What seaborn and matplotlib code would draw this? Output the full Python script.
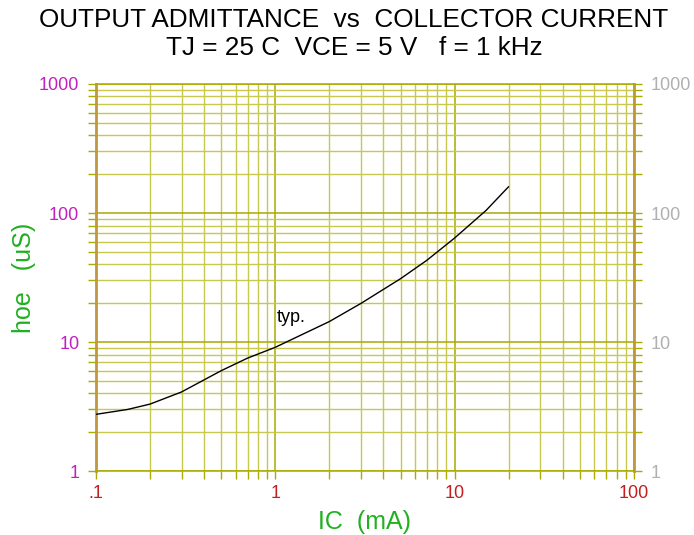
import numpy as np
import pandas as pd
import seaborn as sns
import matplotlib.pyplot as plt
from matplotlib.ticker import LogLocator, FixedLocator, FixedFormatter, NullFormatter

# curve (IC in mA, hoe in uS)
ic_ma = [0.1, 0.15, 0.2, 0.3, 0.5, 0.7, 1.0, 2.0, 3.0, 5.0, 7.0, 10.0, 15.0, 20.0]
hoe_us = [2.75, 3.0, 3.3, 4.1, 6.0, 7.5, 9.1, 14.4, 19.9, 31.0, 43.0, 64.0, 105.0, 160.0]

x_ticks = [0.1, 1, 10, 100]
x_labels = [".1", "1", "10", "100"]
y_ticks = [1, 10, 100, 1000]
y_labels = ["1", "10", "100", "1000"]

title_1 = "OUTPUT ADMITTANCE  vs  COLLECTOR CURRENT"
title_2 = "TJ = 25 C  VCE = 5 V   f = 1 kHz"

sns.set_style("white")
plt.rcParams['font.family'] = ['Liberation Sans', 'DejaVu Sans']

grid_major = "#aaaa00"
grid_minor = "#c8c850"
spine_col = "#c09840"

fig = plt.figure(figsize=(6.94, 5.35), dpi=100)
ax = fig.add_axes([0.1383, 0.1196, 0.7752, 0.7234])

df = pd.DataFrame({"ic": ic_ma, "hoe": hoe_us})
sns.lineplot(data=df, x="ic", y="hoe", color="black", linewidth=1.0, ax=ax, zorder=5)

ax.set_xscale("log")
ax.set_yscale("log")
ax.set_xlim(0.1, 100)
ax.set_ylim(1, 1000)

ax.xaxis.set_major_locator(FixedLocator(x_ticks))
ax.xaxis.set_major_formatter(FixedFormatter(x_labels))
ax.yaxis.set_major_locator(FixedLocator(y_ticks))
ax.yaxis.set_major_formatter(FixedFormatter(y_labels))
ax.xaxis.set_minor_locator(LogLocator(base=10, subs=np.arange(2, 10)))
ax.yaxis.set_minor_locator(LogLocator(base=10, subs=np.arange(2, 10)))
ax.xaxis.set_minor_formatter(NullFormatter())
ax.yaxis.set_minor_formatter(NullFormatter())

ax.grid(which="major", color=grid_major, linewidth=1.1)
ax.grid(which="minor", color=grid_minor, linewidth=1.0)

ax.tick_params(axis="both", which="both", direction="out", color=grid_major,
               length=6, width=1.0, left=True, bottom=True)
ax.tick_params(axis="x", which="major", labelsize=13, labelcolor="#c02020", pad=4)
ax.tick_params(axis="y", which="major", labelsize=13, labelcolor="#c020c0", pad=6)

for side in ["top", "bottom"]:
    ax.spines[side].set_color(grid_major)
    ax.spines[side].set_linewidth(1.1)
for side in ["left", "right"]:
    ax.spines[side].set_color(spine_col)
    ax.spines[side].set_linewidth(2.0)

# right-hand labels in grey
ax2 = ax.twinx()
ax2.set_yscale("log")
ax2.set_ylim(1, 1000)
ax2.yaxis.set_major_locator(FixedLocator(y_ticks))
ax2.yaxis.set_major_formatter(FixedFormatter(y_labels))
ax2.yaxis.set_minor_locator(LogLocator(base=10, subs=np.arange(2, 10)))
ax2.yaxis.set_minor_formatter(NullFormatter())
ax2.tick_params(axis="y", which="both", direction="out", color=grid_major, length=6, width=1.0)
ax2.tick_params(axis="y", which="major", labelsize=13, labelcolor="#b0b0b0", pad=6)
for s in ax2.spines.values():
    s.set_visible(False)

ax.set_xlabel("IC  (mA)", fontsize=18, color="#20b020", labelpad=6)
ax.set_ylabel("hoe   (uS)", fontsize=18, color="#20b020", labelpad=2)

ax.text(1.02, 13.3, "typ.", fontsize=13, color="black", ha="left", va="bottom", zorder=6)

fig.text(0.51, 0.962, title_1, fontsize=18.8, color="black", ha="center", va="center")
fig.text(0.51, 0.91, title_2, fontsize=18.8, color="black", ha="center", va="center")

fig.savefig("out.png", dpi=100)
